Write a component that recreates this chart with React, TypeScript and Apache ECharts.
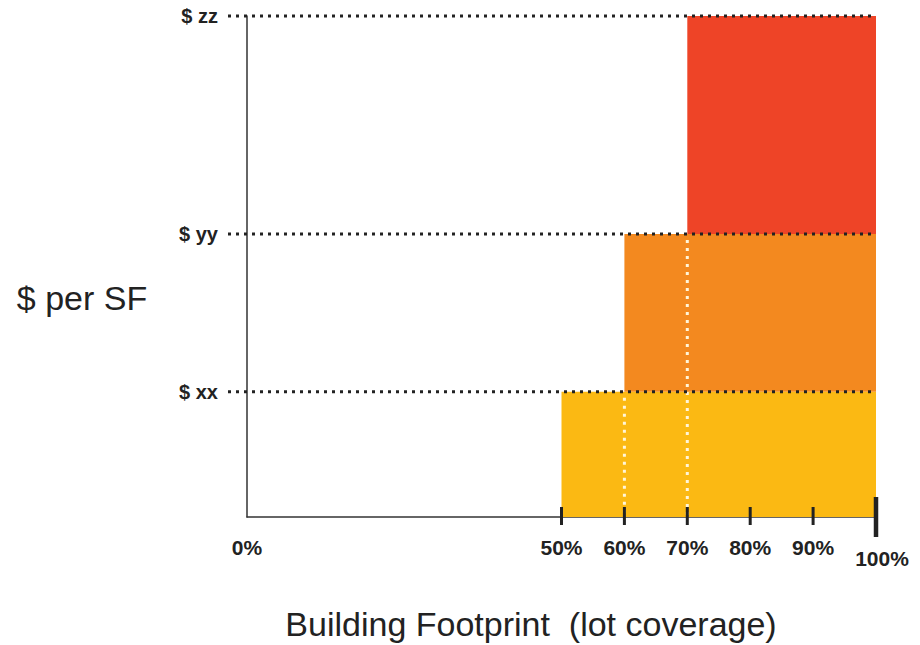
import React, { useEffect, useRef } from "react";
import * as echarts from "echarts";

// Price tiers: label, lot coverage (%) where tier begins, price level (relative units)
const tierLabels = ["$ xx", "$ yy", "$ zz"];
const tierStart = [50, 60, 70];
const tierLevel = [25, 56.5, 100];
const xTickValues = [50, 60, 70, 80, 90, 100];
const xLabelValues = [0, 50, 60, 70, 80, 90, 100];

const tierColors = ["#FBB913", "#F3891F", "#EE4427"];
const FONT = '"Liberation Sans", Arial, Helvetica, sans-serif';
const INK = "#222";

export default function App() {
  const ref = useRef<HTMLDivElement>(null);

  useEffect(() => {
    if (!ref.current) return;
    const chart = echarts.init(ref.current, undefined, { renderer: "svg" });

    const barData = tierLabels.map((_, i) => [
      tierStart[i],
      i === 0 ? 0 : tierLevel[i - 1],
      tierLevel[i],
      i,
    ]);
    const levelData = tierLabels.map((_, i) => [100, tierLevel[i], i]);
    const whiteData = tierLabels
      .map((_, i) => (i === 0 ? null : [tierStart[i], 0, tierLevel[i - 1]]))
      .filter(Boolean) as number[][];
    const tickData = xTickValues.map((v) => [v, 0]);

    chart.setOption({
      animation: false,
      backgroundColor: "#fff",
      grid: { left: 247, right: 44, top: 16, bottom: 128 },
      xAxis: {
        type: "value",
        min: 0,
        max: 100,
        interval: 10,
        axisLine: { show: true, lineStyle: { color: "#333", width: 1.5 } },
        axisTick: { show: false },
        splitLine: { show: false },
        axisLabel: {
          showMinLabel: true,
          showMaxLabel: true,
          margin: 20,
          color: INK,
          fontFamily: FONT,
          fontWeight: "bold",
          fontSize: 21,
          formatter: (v: number) => {
            if (!xLabelValues.includes(v)) return "";
            if (v === 100) return "{low|" + v + "%}";
            return v + "%";
          },
          rich: {
            low: {
              fontFamily: FONT,
              fontWeight: "bold",
              fontSize: 21,
              color: INK,
              padding: [11, 0, 0, 12],
            },
          },
        },
      },
      yAxis: {
        type: "value",
        min: 0,
        max: 100,
        axisLine: { show: true, lineStyle: { color: "#333", width: 1.5 } },
        axisTick: { show: false },
        axisLabel: { show: false },
        splitLine: { show: false },
      },
      graphic: [
        {
          type: "text",
          x: 82,
          y: 298,
          style: {
            text: "$ per SF",
            font: "34px " + FONT,
            fill: INK,
            align: "center",
            verticalAlign: "middle",
          },
        },
        {
          type: "text",
          x: 531,
          y: 624,
          style: {
            text: "Building Footprint  (lot coverage)",
            font: "34px " + FONT,
            fill: INK,
            align: "center",
            verticalAlign: "middle",
          },
        },
      ],
      series: [
        {
          type: "custom",
          clip: false,
          data: barData,
          encode: { x: [0], y: [2] },
          renderItem: (params: any, api: any) => {
            const tl = api.coord([api.value(0), api.value(2)]);
            const br = api.coord([100, api.value(1)]);
            return {
              type: "rect",
              shape: { x: tl[0], y: tl[1], width: br[0] - tl[0], height: br[1] - tl[1] },
              style: { fill: tierColors[api.value(3)] },
            };
          },
        },
        {
          type: "custom",
          clip: false,
          data: whiteData,
          encode: { x: [0], y: [2] },
          renderItem: (params: any, api: any) => {
            const top = api.coord([api.value(0), api.value(2)]);
            const bot = api.coord([api.value(0), api.value(1)]);
            return {
              type: "line",
              shape: { x1: top[0], y1: top[1] + 6, x2: bot[0], y2: bot[1] },
              style: { stroke: "#FFF6DA", lineWidth: 3, lineDash: [3, 5] },
            };
          },
        },
        {
          type: "custom",
          clip: false,
          data: levelData,
          encode: { x: [0], y: [1] },
          renderItem: (params: any, api: any) => {
            const right = api.coord([api.value(0), api.value(1)]);
            const left = api.coord([0, api.value(1)]);
            return {
              type: "group",
              children: [
                {
                  type: "line",
                  shape: { x1: left[0] - 19, y1: right[1], x2: right[0], y2: right[1] },
                  style: { stroke: INK, lineWidth: 3, lineDash: [3, 5] },
                },
                {
                  type: "text",
                  x: left[0] - 29,
                  y: right[1],
                  style: {
                    text: tierLabels[api.value(2)],
                    font: "bold 20px " + FONT,
                    fill: INK,
                    align: "right",
                    verticalAlign: "middle",
                  },
                },
              ],
            };
          },
        },
        {
          type: "custom",
          clip: false,
          data: tickData,
          encode: { x: [0], y: [1] },
          renderItem: (params: any, api: any) => {
            const p = api.coord([api.value(0), api.value(1)]);
            const big = api.value(0) === 100;
            return {
              type: "line",
              shape: {
                x1: p[0],
                y1: p[1] - (big ? 20 : 10),
                x2: p[0],
                y2: p[1] + (big ? 20 : 8),
              },
              style: { stroke: INK, lineWidth: big ? 4.5 : 3 },
            };
          },
        },
      ],
    });

    return () => chart.dispose();
  }, []);

  return (
    <div
      ref={ref}
      style={{ position: "fixed", left: 0, top: 0, width: 920, height: 645, background: "#fff" }}
    />
  );
}
